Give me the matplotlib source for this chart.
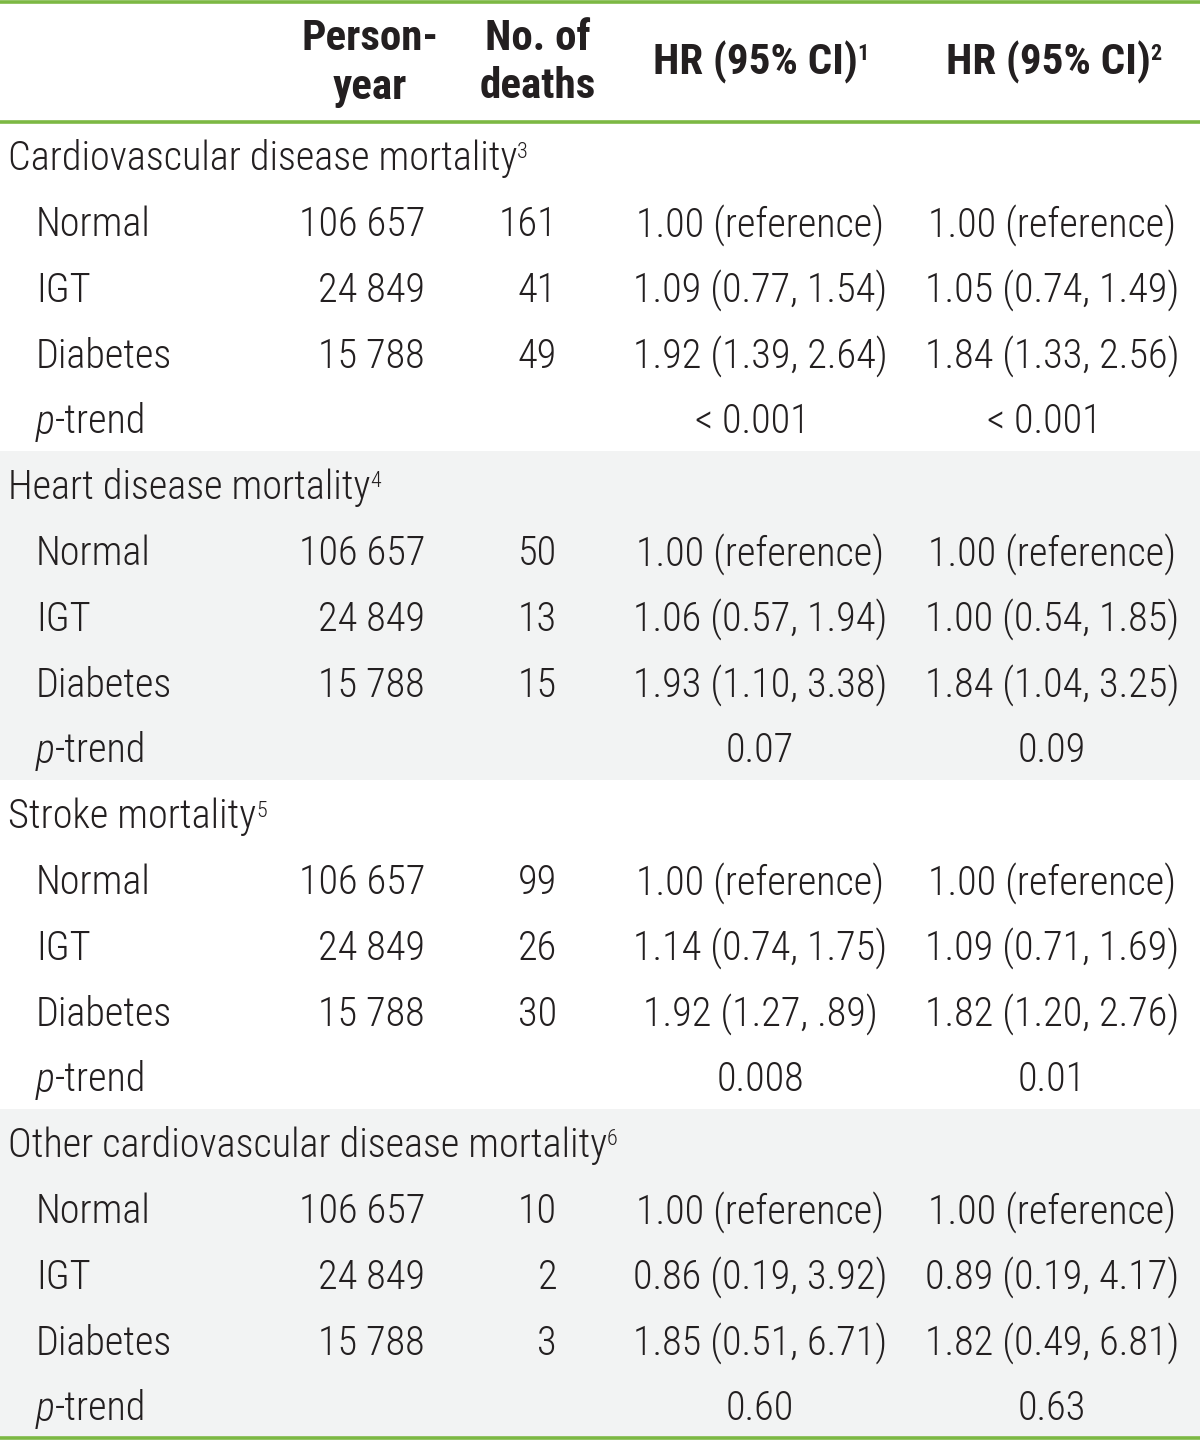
import matplotlib
matplotlib.use("Agg")
import matplotlib.pyplot as plt
from matplotlib.patches import Rectangle

# table content
sections = ["Cardiovascular disease mortality", "Heart disease mortality",
            "Stroke mortality", "Other cardiovascular disease mortality"]
section_notes = ["3", "4", "5", "6"]
groups = ["Normal", "IGT", "Diabetes"]
person_years = ["106 657", "24 849", "15 788"]
deaths = [["161", "41", "49"], ["50", "13", "15"], ["99", "26", "30"], ["10", "2", "3"]]
hr1 = [["1.00 (reference)", "1.09 (0.77, 1.54)", "1.92 (1.39, 2.64)"],
       ["1.00 (reference)", "1.06 (0.57, 1.94)", "1.93 (1.10, 3.38)"],
       ["1.00 (reference)", "1.14 (0.74, 1.75)", "1.92 (1.27, .89)"],
       ["1.00 (reference)", "0.86 (0.19, 3.92)", "1.85 (0.51, 6.71)"]]
hr2 = [["1.00 (reference)", "1.05 (0.74, 1.49)", "1.84 (1.33, 2.56)"],
       ["1.00 (reference)", "1.00 (0.54, 1.85)", "1.84 (1.04, 3.25)"],
       ["1.00 (reference)", "1.09 (0.71, 1.69)", "1.82 (1.20, 2.76)"],
       ["1.00 (reference)", "0.89 (0.19, 4.17)", "1.82 (0.49, 6.81)"]]
p_trend1 = ["< 0.001", "0.07", "0.008", "0.60"]
p_trend2 = ["< 0.001", "0.09", "0.01", "0.63"]

FONT = "Roboto Condensed"
GREEN = "#7cb843"
SHADE = "#f2f3f3"
TXT = "#231f20"
FS = 29
W, H = 1200, 1442

fig = plt.figure(figsize=(W / 100, H / 100), dpi=100)
ax = fig.add_axes([0, 0, 1, 1])
ax.set_xlim(0, W)
ax.set_ylim(H, 0)
ax.axis("off")

header_bottom = 122
sec_h = 329
row_h = sec_h / 5

for s in range(4):
    top = header_bottom + s * sec_h
    if s % 2 == 1:
        ax.add_patch(Rectangle((0, top), W, sec_h, color=SHADE, lw=0, zorder=0))

# rules
for y in (1.5, header_bottom, header_bottom + 4 * sec_h):
    ax.plot([0, W], [y, y], color=GREEN, lw=2.6, solid_capstyle="butt", zorder=3)

fig.canvas.draw()
renderer = fig.canvas.get_renderer()


def right_edge(t):
    bb = t.get_window_extent(renderer)
    return ax.transData.inverted().transform((bb.x1, bb.y1))


def body(x, y, s, ha="left", **kw):
    return ax.text(x, y, s, ha=ha, va="center", fontsize=FS, family=FONT,
                   fontweight="light", color=TXT, **kw)


def sup(t, s, bold=False):
    x, y = right_edge(t)
    ax.text(x, y + 3, s, ha="left", va="top", fontsize=FS * 0.55, family=FONT,
            fontweight="black" if bold else "light", color=TXT)


# header
hkw = dict(fontsize=31, family=FONT, fontweight="black", color=TXT, va="center")
ax.text(370, 38, "Person-", ha="center", **hkw)
ax.text(370, 87, "year", ha="center", **hkw)
ax.text(538, 38, "No. of", ha="center", **hkw)
ax.text(538, 87, "deaths", ha="center", **hkw)
h1 = ax.text(755, 62, "HR (95% CI)", ha="center", **hkw)
h2 = ax.text(1048, 62, "HR (95% CI)", ha="center", **hkw)
fig.canvas.draw()
sup(h1, "1", bold=True)
sup(h2, "2", bold=True)

X_LABEL = 8
X_GROUP = 36
X_PY = 425
X_D = 557
X_HR1 = 760
X_HR2 = 1052

for s in range(4):
    top = header_bottom + s * sec_h
    yc = [top + row_h * (i + 0.5) + 4 for i in range(5)]
    t = body(X_LABEL, yc[0], sections[s])
    fig.canvas.draw()
    sup(t, section_notes[s])
    for i in range(3):
        y = yc[i + 1]
        body(X_GROUP, y, groups[i])
        body(X_PY, y, person_years[i], ha="right")
        body(X_D, y, deaths[s][i], ha="right")
        body(X_HR1, y, hr1[s][i], ha="center")
        body(X_HR2, y, hr2[s][i], ha="center")
    y = yc[4]
    tp = ax.text(X_GROUP, y, "p", ha="left", va="center", fontsize=FS, family=FONT,
                 fontweight="light", style="italic", color=TXT)
    fig.canvas.draw()
    bb = tp.get_window_extent(renderer)
    xr = ax.transData.inverted().transform((bb.x1, bb.y0))[0]
    body(xr, y, "-trend")
    body(X_HR1 - 8 if s == 0 else X_HR1, y, p_trend1[s], ha="center")
    body(X_HR2 - 8 if s == 0 else X_HR2, y, p_trend2[s], ha="center")

fig.savefig("out.png", dpi=100)
